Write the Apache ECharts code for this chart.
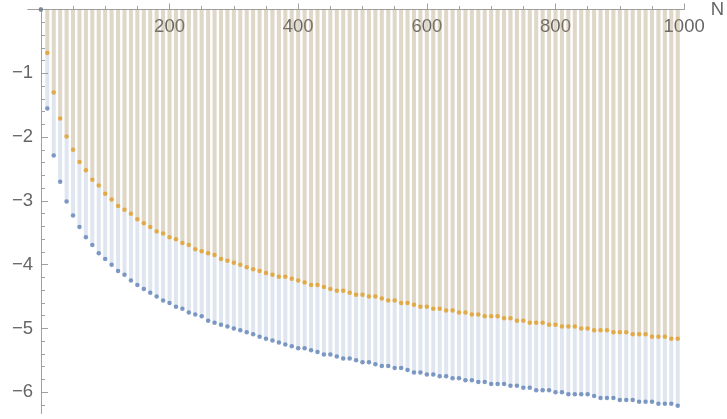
<!DOCTYPE html>
<html>
<head>
<meta charset="utf-8">
<script src="https://cdn.jsdelivr.net/npm/echarts@6/dist/echarts.min.js"></script>
<style>
  html, body { margin: 0; padding: 0; background: #fff; }
  #chart { width: 727px; height: 419px; }
</style>
</head>
<body>
<div id="chart"></div>
<script>
// N values (x)
var nValues = [0, 10, 20, 30, 40, 50, 60, 70, 80, 90,
  100, 110, 120, 130, 140, 150, 160, 170, 180, 190,
  200, 210, 220, 230, 240, 250, 260, 270, 280, 290,
  300, 310, 320, 330, 340, 350, 360, 370, 380, 390,
  400, 410, 420, 430, 440, 450, 460, 470, 480, 490,
  500, 510, 520, 530, 540, 550, 560, 570, 580, 590,
  600, 610, 620, 630, 640, 650, 660, 670, 680, 690,
  700, 710, 720, 730, 740, 750, 760, 770, 780, 790,
  800, 810, 820, 830, 840, 850, 860, 870, 880, 890,
  900, 910, 920, 930, 940, 950, 960, 970, 980, 990];

// blue series
var blueValues = [0, -1.55, -2.29, -2.70, -3.01, -3.23, -3.41, -3.57, -3.69, -3.82,
  -3.91, -4.00, -4.10, -4.16, -4.25, -4.32, -4.38, -4.44, -4.50, -4.56,
  -4.60, -4.66, -4.69, -4.75, -4.78, -4.81, -4.88, -4.91, -4.94, -4.97,
  -5.00, -5.03, -5.06, -5.09, -5.13, -5.16, -5.19, -5.22, -5.25, -5.28,
  -5.31, -5.31, -5.34, -5.37, -5.41, -5.41, -5.44, -5.47, -5.47, -5.50,
  -5.53, -5.53, -5.56, -5.59, -5.59, -5.62, -5.62, -5.65, -5.69, -5.69,
  -5.72, -5.72, -5.75, -5.75, -5.78, -5.78, -5.81, -5.81, -5.84, -5.84,
  -5.87, -5.87, -5.87, -5.90, -5.90, -5.93, -5.93, -5.97, -5.97, -5.97,
  -6.00, -6.00, -6.03, -6.03, -6.03, -6.03, -6.06, -6.09, -6.09, -6.09,
  -6.12, -6.12, -6.12, -6.15, -6.15, -6.15, -6.18, -6.18, -6.18, -6.21];

// orange series
var orangeValues = [0, -0.68, -1.30, -1.71, -1.99, -2.20, -2.39, -2.52, -2.67, -2.76,
  -2.89, -2.98, -3.08, -3.14, -3.20, -3.29, -3.35, -3.41, -3.48, -3.51,
  -3.57, -3.60, -3.66, -3.69, -3.76, -3.79, -3.82, -3.85, -3.91, -3.94,
  -3.97, -4.00, -4.04, -4.07, -4.10, -4.13, -4.16, -4.19, -4.19, -4.22,
  -4.25, -4.28, -4.32, -4.32, -4.35, -4.38, -4.41, -4.41, -4.44, -4.47,
  -4.47, -4.50, -4.50, -4.53, -4.56, -4.56, -4.60, -4.60, -4.63, -4.66,
  -4.66, -4.69, -4.69, -4.72, -4.72, -4.75, -4.75, -4.78, -4.78, -4.81,
  -4.81, -4.81, -4.84, -4.84, -4.88, -4.88, -4.91, -4.91, -4.91, -4.94,
  -4.94, -4.97, -4.97, -4.97, -5.00, -5.00, -5.03, -5.03, -5.03, -5.06,
  -5.06, -5.06, -5.09, -5.09, -5.09, -5.13, -5.13, -5.13, -5.16, -5.16];

// ticks
var xMajorTicks = [200, 400, 600, 800, 1000];
var xMinorTicks = [50, 100, 150, 250, 300, 350, 450, 500, 550, 650, 700, 750, 850, 900, 950];
var yMajorTicks = [-1, -2, -3, -4, -5, -6];
var yMinorTicks = [-0.2, -0.4, -0.6, -0.8, -1.2, -1.4, -1.6, -1.8, -2.2, -2.4, -2.6, -2.8,
  -3.2, -3.4, -3.6, -3.8, -4.2, -4.4, -4.6, -4.8, -5.2, -5.4, -5.6, -5.8, -6.2];

function pairs(xs, ys) {
  return xs.map(function (x, i) { return [x, ys[i]]; });
}

var chart = echarts.init(document.getElementById('chart'));

var axisCol = '#a0a0a0';
var labelCol = '#666666';
var font = 'Liberation Sans, Arial, sans-serif';

var xCommon = {
  type: 'value', min: -20, max: 1000, position: 'top',
  axisLine: { show: true, onZero: false, lineStyle: { color: axisCol, width: 1 } },
  splitLine: { show: false }
};
var yCommon = {
  type: 'value', min: -6.33, max: 0, position: 'left', offset: -13,
  axisLine: { show: true, onZero: false, lineStyle: { color: axisCol, width: 1 } },
  splitLine: { show: false }
};

var option = {
  animation: false,
  backgroundColor: '#fff',
  grid: { left: 28, right: 35.3, top: 6.4, bottom: 5.7, containLabel: false },
  xAxis: [
    Object.assign({}, xCommon, {
      name: 'N', nameLocation: 'end', nameGap: 23,
      nameTextStyle: { fontSize: 18.5, color: labelCol, fontFamily: font, verticalAlign: 'middle', padding: [0, 0, 3, 0] },
      axisTick: { show: true, inside: false, length: 6, lineStyle: { color: axisCol }, customValues: xMajorTicks },
      axisLabel: {
        show: true, inside: true, margin: 8, fontSize: 18.5, color: labelCol, fontFamily: font, customValues: xMajorTicks,
        formatter: function (v) { return String(v); }
      }
    }),
    Object.assign({}, xCommon, {
      axisTick: { show: true, inside: false, length: 3.5, lineStyle: { color: axisCol }, customValues: xMinorTicks },
      axisLabel: { show: false }
    })
  ],
  yAxis: [
    Object.assign({}, yCommon, {
      axisTick: { show: true, inside: true, length: 7, lineStyle: { color: axisCol }, customValues: yMajorTicks },
      axisLabel: {
        show: true, margin: 8, fontSize: 18.5, color: labelCol, fontFamily: font, customValues: yMajorTicks,
        formatter: function (v) { return v < 0 ? '\u2212' + Math.abs(v) : String(v); }
      }
    }),
    Object.assign({}, yCommon, {
      axisTick: { show: true, inside: true, length: 4, lineStyle: { color: axisCol }, customValues: yMinorTicks },
      axisLabel: { show: false }
    })
  ],
  series: [
    {
      type: 'bar', xAxisIndex: 0, yAxisIndex: 0,
      data: pairs(nValues, blueValues),
      barWidth: 4, barGap: '-100%',
      itemStyle: { color: 'rgba(94,129,181,0.2)' },
      z: 1
    },
    {
      type: 'bar', xAxisIndex: 0, yAxisIndex: 0,
      data: pairs(nValues, orangeValues),
      barWidth: 4, barGap: '-100%',
      itemStyle: { color: 'rgba(225,156,36,0.2)' },
      z: 2
    },
    {
      type: 'scatter', xAxisIndex: 0, yAxisIndex: 0,
      data: pairs(nValues, orangeValues),
      symbolSize: 4.5,
      itemStyle: { color: '#e19c24' },
      z: 3
    },
    {
      type: 'scatter', xAxisIndex: 0, yAxisIndex: 0,
      data: pairs(nValues, blueValues),
      symbolSize: 4.5,
      itemStyle: { color: '#5e81b5' },
      z: 4
    }
  ]
};

chart.setOption(option);
</script>
</body>
</html>
